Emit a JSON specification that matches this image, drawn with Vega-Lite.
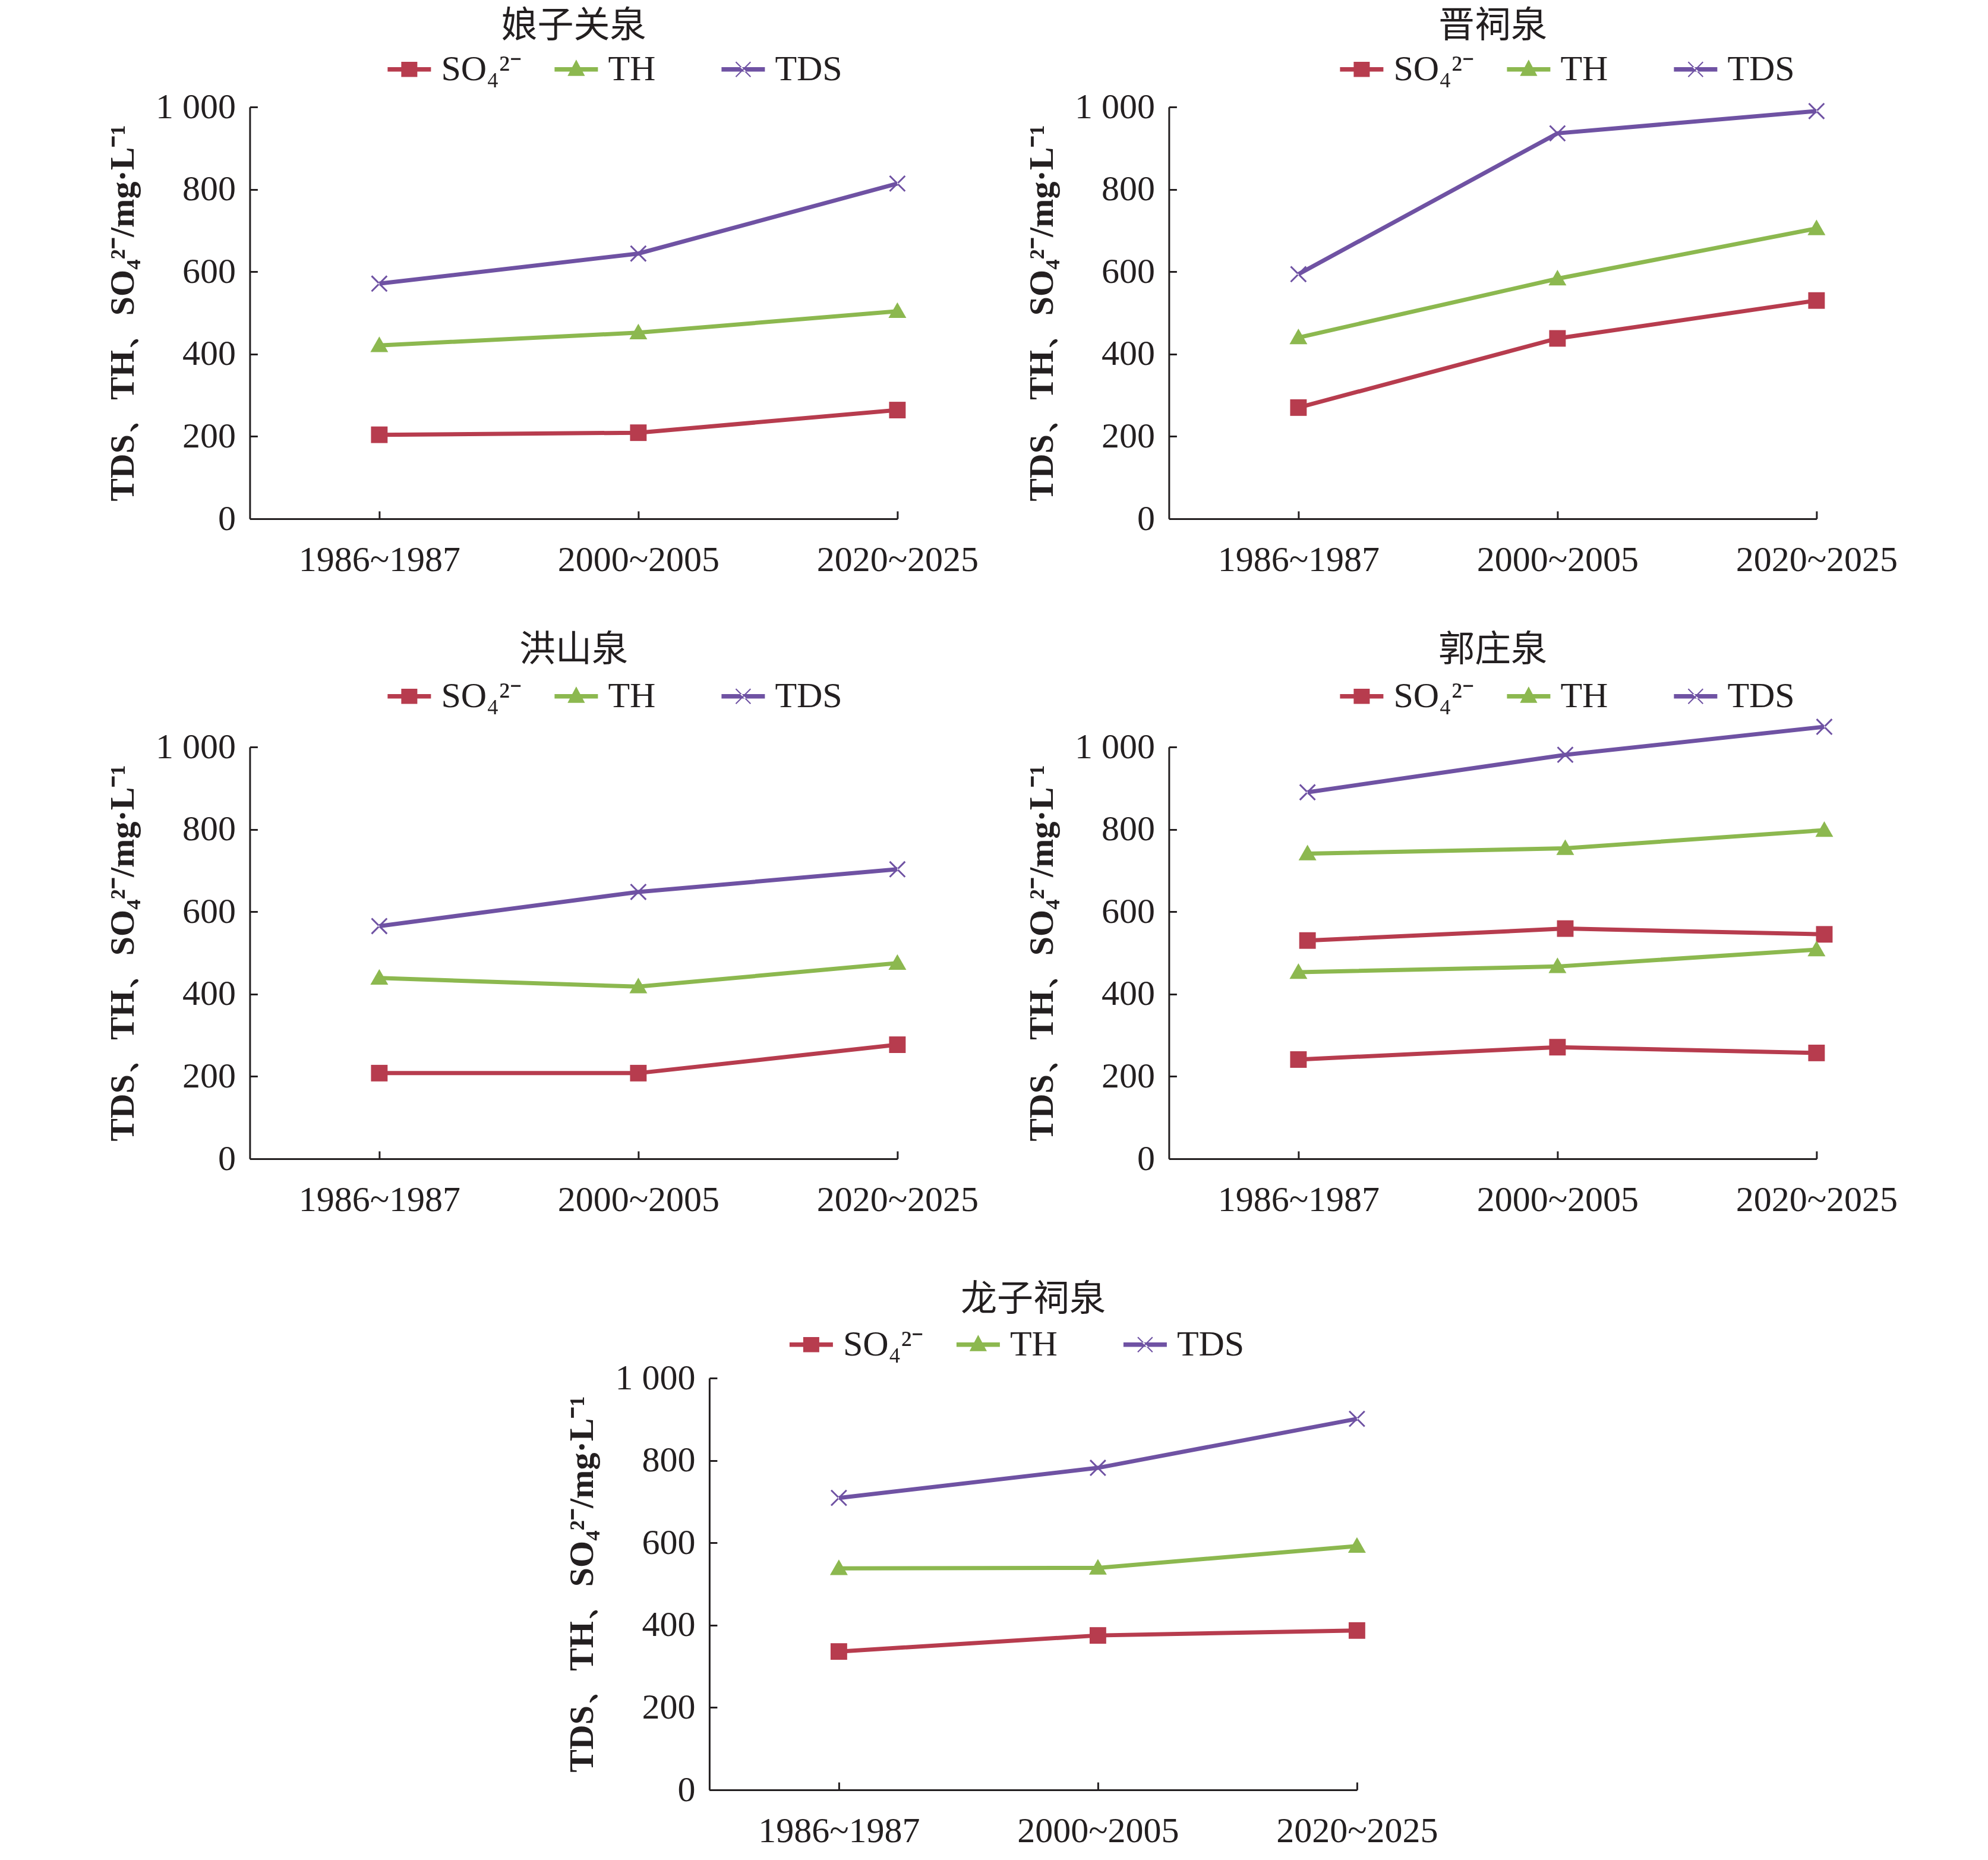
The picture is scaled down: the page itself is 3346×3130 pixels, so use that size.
{
  "$schema": "https://vega.github.io/schema/vega-lite/v6.json",
  "background": "white",
  "padding": {"left": 178, "top": 14, "right": 0, "bottom": 0},
  "datasets": {
    "springs": [
      {"spring": "娘子关泉", "set": "a", "series": "SO₄²⁻", "t": 0, "v": 204},
      {"spring": "娘子关泉", "set": "a", "series": "SO₄²⁻", "t": 1, "v": 209},
      {"spring": "娘子关泉", "set": "a", "series": "SO₄²⁻", "t": 2, "v": 264},
      {"spring": "娘子关泉", "set": "a", "series": "TH", "t": 0, "v": 421},
      {"spring": "娘子关泉", "set": "a", "series": "TH", "t": 1, "v": 452},
      {"spring": "娘子关泉", "set": "a", "series": "TH", "t": 2, "v": 504},
      {"spring": "娘子关泉", "set": "a", "series": "TDS", "t": 0, "v": 571},
      {"spring": "娘子关泉", "set": "a", "series": "TDS", "t": 1, "v": 644},
      {"spring": "娘子关泉", "set": "a", "series": "TDS", "t": 2, "v": 814},

      {"spring": "晋祠泉", "set": "a", "series": "SO₄²⁻", "t": 0, "v": 270},
      {"spring": "晋祠泉", "set": "a", "series": "SO₄²⁻", "t": 1, "v": 438},
      {"spring": "晋祠泉", "set": "a", "series": "SO₄²⁻", "t": 2, "v": 530},
      {"spring": "晋祠泉", "set": "a", "series": "TH", "t": 0, "v": 440},
      {"spring": "晋祠泉", "set": "a", "series": "TH", "t": 1, "v": 583},
      {"spring": "晋祠泉", "set": "a", "series": "TH", "t": 2, "v": 705},
      {"spring": "晋祠泉", "set": "a", "series": "TDS", "t": 0, "v": 594},
      {"spring": "晋祠泉", "set": "a", "series": "TDS", "t": 1, "v": 936},
      {"spring": "晋祠泉", "set": "a", "series": "TDS", "t": 2, "v": 990},

      {"spring": "洪山泉", "set": "a", "series": "SO₄²⁻", "t": 0, "v": 208},
      {"spring": "洪山泉", "set": "a", "series": "SO₄²⁻", "t": 1, "v": 208},
      {"spring": "洪山泉", "set": "a", "series": "SO₄²⁻", "t": 2, "v": 277},
      {"spring": "洪山泉", "set": "a", "series": "TH", "t": 0, "v": 439},
      {"spring": "洪山泉", "set": "a", "series": "TH", "t": 1, "v": 418},
      {"spring": "洪山泉", "set": "a", "series": "TH", "t": 2, "v": 475},
      {"spring": "洪山泉", "set": "a", "series": "TDS", "t": 0, "v": 565},
      {"spring": "洪山泉", "set": "a", "series": "TDS", "t": 1, "v": 648},
      {"spring": "洪山泉", "set": "a", "series": "TDS", "t": 2, "v": 703},

      {"spring": "郭庄泉", "set": "a", "series": "SO₄²⁻", "t": 0.035, "v": 530},
      {"spring": "郭庄泉", "set": "a", "series": "SO₄²⁻", "t": 1.03, "v": 559},
      {"spring": "郭庄泉", "set": "a", "series": "SO₄²⁻", "t": 2.03, "v": 545},
      {"spring": "郭庄泉", "set": "a", "series": "TH", "t": 0.035, "v": 741},
      {"spring": "郭庄泉", "set": "a", "series": "TH", "t": 1.03, "v": 754},
      {"spring": "郭庄泉", "set": "a", "series": "TH", "t": 2.03, "v": 798},
      {"spring": "郭庄泉", "set": "a", "series": "TDS", "t": 0.035, "v": 890},
      {"spring": "郭庄泉", "set": "a", "series": "TDS", "t": 1.03, "v": 981},
      {"spring": "郭庄泉", "set": "a", "series": "TDS", "t": 2.03, "v": 1049},
      {"spring": "郭庄泉", "set": "b", "series": "SO₄²⁻", "t": 0, "v": 241},
      {"spring": "郭庄泉", "set": "b", "series": "SO₄²⁻", "t": 1, "v": 271},
      {"spring": "郭庄泉", "set": "b", "series": "SO₄²⁻", "t": 2, "v": 257},
      {"spring": "郭庄泉", "set": "b", "series": "TH", "t": 0, "v": 453},
      {"spring": "郭庄泉", "set": "b", "series": "TH", "t": 1, "v": 467},
      {"spring": "郭庄泉", "set": "b", "series": "TH", "t": 2, "v": 508},

      {"spring": "龙子祠泉", "set": "a", "series": "SO₄²⁻", "t": 0, "v": 336},
      {"spring": "龙子祠泉", "set": "a", "series": "SO₄²⁻", "t": 1, "v": 375},
      {"spring": "龙子祠泉", "set": "a", "series": "SO₄²⁻", "t": 2, "v": 387},
      {"spring": "龙子祠泉", "set": "a", "series": "TH", "t": 0, "v": 538},
      {"spring": "龙子祠泉", "set": "a", "series": "TH", "t": 1, "v": 539},
      {"spring": "龙子祠泉", "set": "a", "series": "TH", "t": 2, "v": 592},
      {"spring": "龙子祠泉", "set": "a", "series": "TDS", "t": 0, "v": 709},
      {"spring": "龙子祠泉", "set": "a", "series": "TDS", "t": 1, "v": 782},
      {"spring": "龙子祠泉", "set": "a", "series": "TDS", "t": 2, "v": 901}
    ]
  },
  "data": {"name": "springs"},
  "center": true,
  "spacing": 108,
  "resolve": {"scale": {"color": "independent", "shape": "independent"}, "legend": {"color": "independent"}},
  "vconcat": [
    {
      "spacing": 92,
      "resolve": {"scale": {"color": "independent", "shape": "independent"}, "legend": {"color": "independent"}},
      "vconcat": [
        {
          "spacing": 78,
          "resolve": {"scale": {"color": "independent", "shape": "independent"}, "legend": {"color": "independent"}},
          "hconcat": [
            {
              "width": 1090, "height": 693,
              "title": {"text": "娘子关泉", "offset": 4},
              "transform": [{"filter": "datum.spring === '娘子关泉'"}],
              "encoding": {
                "x": {"field": "t", "type": "quantitative", "scale": {"domain": [-0.5, 2], "nice": false, "zero": false},
                  "axis": {"values": [0, 1, 2], "title": null, "labelPadding": 53, "labelFlush": false, "labelOverlap": false, "labelLimit": 1000,
                    "labelExpr": "['1986~1987', '2000~2005', '2020~2025'][datum.value]"}},
                "y": {"field": "v", "type": "quantitative", "scale": {"domain": [0, 1000], "nice": false},
                  "axis": {"values": [0, 200, 400, 600, 800, 1000], "title": "TDS、TH、SO₄²⁻/mg·L⁻¹", "labelPadding": 37, "titlePadding": 25,
                    "labelExpr": "datum.value == 1000 ? '1 000' : datum.label"}},
                "color": {"field": "series", "type": "nominal",
                  "scale": {"domain": ["SO₄²⁻", "TH", "TDS"], "range": ["#b73c4e", "#8cb84f", "#6f52a3"]},
                  "legend": {"orient": "none", "legendX": 232, "legendY": -100}}
              },
              "layer": [
                {"mark": {"type": "line", "strokeWidth": 7}, "encoding": {"detail": {"field": "set"}}},
                {"transform": [{"filter": "datum.series === 'SO₄²⁻'"}], "mark": {"type": "point", "filled": true, "opacity": 1, "size": 900, "shape": "M-0.93,-0.93H0.93V0.93H-0.93Z"}},
                {"transform": [{"filter": "datum.series === 'TH'"}], "mark": {"type": "point", "filled": true, "opacity": 1, "size": 900, "shape": "M0,-1L1,0.75H-1Z"}},
                {"transform": [{"filter": "datum.series === 'TDS'"}], "mark": {"type": "point", "filled": true, "opacity": 1, "size": 900, "shape": "M-0.93,-0.79L0.79,0.93L0.93,0.79L-0.79,-0.93Z M0.93,-0.79L-0.79,0.93L-0.93,0.79L0.79,-0.93Z"}},
                {"mark": {"type": "point", "filled": true, "opacity": 1, "size": 0},
                  "encoding": {"shape": {"field": "series", "type": "nominal", "legend": null,
                    "scale": {"domain": ["SO₄²⁻", "TH", "TDS"], "range": ["M-1,-0.1H1V0.1H-1Z M-0.37,-0.35H0.37V0.35H-0.37Z", "M-1,-0.1H1V0.1H-1Z M0,-0.45L0.4,0.3H-0.4Z", "M-1,-0.1H1V0.1H-1Z M-0.36,-0.32L0.32,0.36L0.36,0.32L-0.32,-0.36Z M0.36,-0.32L-0.32,0.36L-0.36,0.32L0.32,-0.36Z"]}}}}
              ]
            },
            {
              "width": 1090, "height": 693,
              "title": {"text": "晋祠泉", "offset": 4},
              "transform": [{"filter": "datum.spring === '晋祠泉'"}],
              "encoding": {
                "x": {"field": "t", "type": "quantitative", "scale": {"domain": [-0.5, 2], "nice": false, "zero": false},
                  "axis": {"values": [0, 1, 2], "title": null, "labelPadding": 53, "labelFlush": false, "labelOverlap": false, "labelLimit": 1000,
                    "labelExpr": "['1986~1987', '2000~2005', '2020~2025'][datum.value]"}},
                "y": {"field": "v", "type": "quantitative", "scale": {"domain": [0, 1000], "nice": false},
                  "axis": {"values": [0, 200, 400, 600, 800, 1000], "title": "TDS、TH、SO₄²⁻/mg·L⁻¹", "labelPadding": 37, "titlePadding": 25,
                    "labelExpr": "datum.value == 1000 ? '1 000' : datum.label"}},
                "color": {"field": "series", "type": "nominal",
                  "scale": {"domain": ["SO₄²⁻", "TH", "TDS"], "range": ["#b73c4e", "#8cb84f", "#6f52a3"]},
                  "legend": {"orient": "none", "legendX": 288, "legendY": -100}}
              },
              "layer": [
                {"mark": {"type": "line", "strokeWidth": 7}, "encoding": {"detail": {"field": "set"}}},
                {"transform": [{"filter": "datum.series === 'SO₄²⁻'"}], "mark": {"type": "point", "filled": true, "opacity": 1, "size": 900, "shape": "M-0.93,-0.93H0.93V0.93H-0.93Z"}},
                {"transform": [{"filter": "datum.series === 'TH'"}], "mark": {"type": "point", "filled": true, "opacity": 1, "size": 900, "shape": "M0,-1L1,0.75H-1Z"}},
                {"transform": [{"filter": "datum.series === 'TDS'"}], "mark": {"type": "point", "filled": true, "opacity": 1, "size": 900, "shape": "M-0.93,-0.79L0.79,0.93L0.93,0.79L-0.79,-0.93Z M0.93,-0.79L-0.79,0.93L-0.93,0.79L0.79,-0.93Z"}},
                {"mark": {"type": "point", "filled": true, "opacity": 1, "size": 0},
                  "encoding": {"shape": {"field": "series", "type": "nominal", "legend": null,
                    "scale": {"domain": ["SO₄²⁻", "TH", "TDS"], "range": ["M-1,-0.1H1V0.1H-1Z M-0.37,-0.35H0.37V0.35H-0.37Z", "M-1,-0.1H1V0.1H-1Z M0,-0.45L0.4,0.3H-0.4Z", "M-1,-0.1H1V0.1H-1Z M-0.36,-0.32L0.32,0.36L0.36,0.32L-0.32,-0.36Z M0.36,-0.32L-0.32,0.36L-0.36,0.32L0.32,-0.36Z"]}}}}
              ]
            }
          ]
        },
        {
          "spacing": 78,
          "resolve": {"scale": {"color": "independent", "shape": "independent"}, "legend": {"color": "independent"}},
          "hconcat": [
            {
              "width": 1090, "height": 693,
              "title": {"text": "洪山泉", "offset": 9},
              "transform": [{"filter": "datum.spring === '洪山泉'"}],
              "encoding": {
                "x": {"field": "t", "type": "quantitative", "scale": {"domain": [-0.5, 2], "nice": false, "zero": false},
                  "axis": {"values": [0, 1, 2], "title": null, "labelPadding": 53, "labelFlush": false, "labelOverlap": false, "labelLimit": 1000,
                    "labelExpr": "['1986~1987', '2000~2005', '2020~2025'][datum.value]"}},
                "y": {"field": "v", "type": "quantitative", "scale": {"domain": [0, 1000], "nice": false},
                  "axis": {"values": [0, 200, 400, 600, 800, 1000], "title": "TDS、TH、SO₄²⁻/mg·L⁻¹", "labelPadding": 37, "titlePadding": 25,
                    "labelExpr": "datum.value == 1000 ? '1 000' : datum.label"}},
                "color": {"field": "series", "type": "nominal",
                  "scale": {"domain": ["SO₄²⁻", "TH", "TDS"], "range": ["#b73c4e", "#8cb84f", "#6f52a3"]},
                  "legend": {"orient": "none", "legendX": 232, "legendY": -122}}
              },
              "layer": [
                {"mark": {"type": "line", "strokeWidth": 7}, "encoding": {"detail": {"field": "set"}}},
                {"transform": [{"filter": "datum.series === 'SO₄²⁻'"}], "mark": {"type": "point", "filled": true, "opacity": 1, "size": 900, "shape": "M-0.93,-0.93H0.93V0.93H-0.93Z"}},
                {"transform": [{"filter": "datum.series === 'TH'"}], "mark": {"type": "point", "filled": true, "opacity": 1, "size": 900, "shape": "M0,-1L1,0.75H-1Z"}},
                {"transform": [{"filter": "datum.series === 'TDS'"}], "mark": {"type": "point", "filled": true, "opacity": 1, "size": 900, "shape": "M-0.93,-0.79L0.79,0.93L0.93,0.79L-0.79,-0.93Z M0.93,-0.79L-0.79,0.93L-0.93,0.79L0.79,-0.93Z"}},
                {"mark": {"type": "point", "filled": true, "opacity": 1, "size": 0},
                  "encoding": {"shape": {"field": "series", "type": "nominal", "legend": null,
                    "scale": {"domain": ["SO₄²⁻", "TH", "TDS"], "range": ["M-1,-0.1H1V0.1H-1Z M-0.37,-0.35H0.37V0.35H-0.37Z", "M-1,-0.1H1V0.1H-1Z M0,-0.45L0.4,0.3H-0.4Z", "M-1,-0.1H1V0.1H-1Z M-0.36,-0.32L0.32,0.36L0.36,0.32L-0.32,-0.36Z M0.36,-0.32L-0.32,0.36L-0.36,0.32L0.32,-0.36Z"]}}}}
              ]
            },
            {
              "width": 1090, "height": 693,
              "title": {"text": "郭庄泉", "offset": 9},
              "transform": [{"filter": "datum.spring === '郭庄泉'"}],
              "encoding": {
                "x": {"field": "t", "type": "quantitative", "scale": {"domain": [-0.5, 2], "nice": false, "zero": false},
                  "axis": {"values": [0, 1, 2], "title": null, "labelPadding": 53, "labelFlush": false, "labelOverlap": false, "labelLimit": 1000,
                    "labelExpr": "['1986~1987', '2000~2005', '2020~2025'][datum.value]"}},
                "y": {"field": "v", "type": "quantitative", "scale": {"domain": [0, 1000], "nice": false},
                  "axis": {"values": [0, 200, 400, 600, 800, 1000], "title": "TDS、TH、SO₄²⁻/mg·L⁻¹", "labelPadding": 37, "titlePadding": 25,
                    "labelExpr": "datum.value == 1000 ? '1 000' : datum.label"}},
                "color": {"field": "series", "type": "nominal",
                  "scale": {"domain": ["SO₄²⁻", "TH", "TDS"], "range": ["#b73c4e", "#8cb84f", "#6f52a3"]},
                  "legend": {"orient": "none", "legendX": 288, "legendY": -122}}
              },
              "layer": [
                {"mark": {"type": "line", "strokeWidth": 7}, "encoding": {"detail": {"field": "set"}}},
                {"transform": [{"filter": "datum.series === 'SO₄²⁻'"}], "mark": {"type": "point", "filled": true, "opacity": 1, "size": 900, "shape": "M-0.93,-0.93H0.93V0.93H-0.93Z"}},
                {"transform": [{"filter": "datum.series === 'TH'"}], "mark": {"type": "point", "filled": true, "opacity": 1, "size": 900, "shape": "M0,-1L1,0.75H-1Z"}},
                {"transform": [{"filter": "datum.series === 'TDS'"}], "mark": {"type": "point", "filled": true, "opacity": 1, "size": 900, "shape": "M-0.93,-0.79L0.79,0.93L0.93,0.79L-0.79,-0.93Z M0.93,-0.79L-0.79,0.93L-0.93,0.79L0.79,-0.93Z"}},
                {"mark": {"type": "point", "filled": true, "opacity": 1, "size": 0},
                  "encoding": {"shape": {"field": "series", "type": "nominal", "legend": null,
                    "scale": {"domain": ["SO₄²⁻", "TH", "TDS"], "range": ["M-1,-0.1H1V0.1H-1Z M-0.37,-0.35H0.37V0.35H-0.37Z", "M-1,-0.1H1V0.1H-1Z M0,-0.45L0.4,0.3H-0.4Z", "M-1,-0.1H1V0.1H-1Z M-0.36,-0.32L0.32,0.36L0.36,0.32L-0.32,-0.36Z M0.36,-0.32L-0.32,0.36L-0.36,0.32L0.32,-0.36Z"]}}}}
              ]
            }
          ]
        }
      ]
    },
    {
      "width": 1090, "height": 693,
      "title": {"text": "龙子祠泉", "offset": 7},
      "transform": [{"filter": "datum.spring === '龙子祠泉'"}],
      "encoding": {
        "x": {"field": "t", "type": "quantitative", "scale": {"domain": [-0.5, 2], "nice": false, "zero": false},
          "axis": {"values": [0, 1, 2], "title": null, "labelPadding": 53, "labelFlush": false, "labelOverlap": false, "labelLimit": 1000,
            "labelExpr": "['1986~1987', '2000~2005', '2020~2025'][datum.value]"}},
        "y": {"field": "v", "type": "quantitative", "scale": {"domain": [0, 1000], "nice": false},
          "axis": {"values": [0, 200, 400, 600, 800, 1000], "title": "TDS、TH、SO₄²⁻/mg·L⁻¹", "labelPadding": 37, "titlePadding": 25,
            "labelExpr": "datum.value == 1000 ? '1 000' : datum.label"}},
        "color": {"field": "series", "type": "nominal",
          "scale": {"domain": ["SO₄²⁻", "TH", "TDS"], "range": ["#b73c4e", "#8cb84f", "#6f52a3"]},
          "legend": {"orient": "none", "legendX": 135, "legendY": -93}}
      },
      "layer": [
        {"mark": {"type": "line", "strokeWidth": 7}, "encoding": {"detail": {"field": "set"}}},
        {"transform": [{"filter": "datum.series === 'SO₄²⁻'"}], "mark": {"type": "point", "filled": true, "opacity": 1, "size": 900, "shape": "M-0.93,-0.93H0.93V0.93H-0.93Z"}},
        {"transform": [{"filter": "datum.series === 'TH'"}], "mark": {"type": "point", "filled": true, "opacity": 1, "size": 900, "shape": "M0,-1L1,0.75H-1Z"}},
        {"transform": [{"filter": "datum.series === 'TDS'"}], "mark": {"type": "point", "filled": true, "opacity": 1, "size": 900, "shape": "M-0.93,-0.79L0.79,0.93L0.93,0.79L-0.79,-0.93Z M0.93,-0.79L-0.79,0.93L-0.93,0.79L0.79,-0.93Z"}},
        {"mark": {"type": "point", "filled": true, "opacity": 1, "size": 0},
          "encoding": {"shape": {"field": "series", "type": "nominal", "legend": null,
            "scale": {"domain": ["SO₄²⁻", "TH", "TDS"], "range": ["M-1,-0.1H1V0.1H-1Z M-0.37,-0.35H0.37V0.35H-0.37Z", "M-1,-0.1H1V0.1H-1Z M0,-0.45L0.4,0.3H-0.4Z", "M-1,-0.1H1V0.1H-1Z M-0.36,-0.32L0.32,0.36L0.36,0.32L-0.32,-0.36Z M0.36,-0.32L-0.32,0.36L-0.36,0.32L0.32,-0.36Z"]}}}}
      ]
    }
  ],
  "config": {
    "view": {"stroke": null},
    "title": {"font": "Noto Sans CJK SC", "fontSize": 61, "fontWeight": "normal", "color": "#231f20", "anchor": "middle", "frame": "group"},
    "axis": {
      "grid": false,
      "domainColor": "#231f20", "domainWidth": 3,
      "tickColor": "#231f20", "tickWidth": 3, "tickSize": -13,
      "labelFont": "Liberation Serif", "labelFontSize": 60, "labelColor": "#231f20",
      "titleFont": "Liberation Serif", "titleFontSize": 58, "titleFontWeight": "bold", "titleColor": "#231f20"
    },
    "legend": {
      "direction": "horizontal", "columns": 3, "gridAlign": "all", "columnPadding": 55,
      "title": null, "symbolSize": 5329, "labelOffset": 17, "symbolStrokeWidth": 0,
      "labelFont": "Liberation Serif", "labelFontSize": 60, "labelColor": "#231f20"
    }
  }
}
